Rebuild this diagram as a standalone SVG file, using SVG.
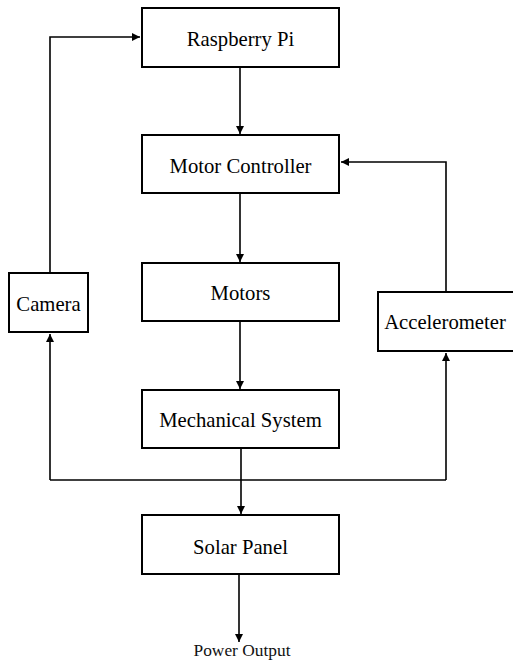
<svg xmlns="http://www.w3.org/2000/svg" width="513" height="660" viewBox="0 0 513 660">
<defs>
<marker id="ah" viewBox="0 0 10 10" refX="10" refY="5" markerWidth="8" markerHeight="8" markerUnits="userSpaceOnUse" orient="auto">
<path d="M0,0 L10,5 L0,10 Z" fill="#000"/>
</marker>
<style>
.box{fill:#fff;stroke:#000;stroke-width:2}
.lbl{font-family:'Liberation Serif','DejaVu Serif',serif;font-size:20.7px;fill:#000;text-anchor:middle}
.out{font-family:'Liberation Serif','DejaVu Serif',serif;font-size:17px;fill:#111;text-anchor:middle}
.c{fill:none;stroke:#000;stroke-width:1.6}
.ca{fill:none;stroke:#000;stroke-width:1.6;marker-end:url(#ah)}
</style>
</defs>
<rect width="513" height="660" fill="#fff"/>
<g id="connectors">
<path class="ca" d="M240,67 V134"/>
<path class="ca" d="M240,193 V262"/>
<path class="ca" d="M240,321 V389"/>
<path class="ca" d="M241,448 V514"/>
<path class="ca" d="M239,575 V642"/>
<path class="ca" d="M50,272 V37 H140"/>
<path class="ca" d="M446,291 V162 H341"/>
<path class="c" d="M50,480 H446"/>
<path class="ca" d="M50,480 V334"/>
<path class="ca" d="M446,480 V353"/>
</g>
<g id="raspberry-pi"><rect class="box" x="142" y="8" width="197" height="59"/><text class="lbl" font-family="Liberation Serif, serif" x="240.5" y="46">Raspberry Pi</text></g>
<g id="motor-controller"><rect class="box" x="142" y="135" width="197" height="58"/><text class="lbl" font-family="Liberation Serif, serif" x="240.5" y="173">Motor Controller</text></g>
<g id="motors"><rect class="box" x="142" y="263" width="197" height="58"/><text class="lbl" font-family="Liberation Serif, serif" x="240.5" y="300">Motors</text></g>
<g id="mechanical-system"><rect class="box" x="142" y="390" width="197" height="58"/><text class="lbl" font-family="Liberation Serif, serif" x="240.5" y="427">Mechanical System</text></g>
<g id="solar-panel"><rect class="box" x="142" y="515" width="197" height="59"/><text class="lbl" font-family="Liberation Serif, serif" x="240.5" y="554">Solar Panel</text></g>
<g id="camera"><rect class="box" x="9" y="273" width="79" height="59"/><text class="lbl" font-family="Liberation Serif, serif" x="48.5" y="311">Camera</text></g>
<g id="accelerometer"><rect class="box" x="378" y="292" width="140" height="59"/><text class="lbl" font-family="Liberation Serif, serif" x="445" y="329">Accelerometer</text></g>
<g id="power-output"><text class="out" font-family="Liberation Serif, serif" x="242" y="656" textLength="97" lengthAdjust="spacingAndGlyphs">Power Output</text></g>
</svg>
